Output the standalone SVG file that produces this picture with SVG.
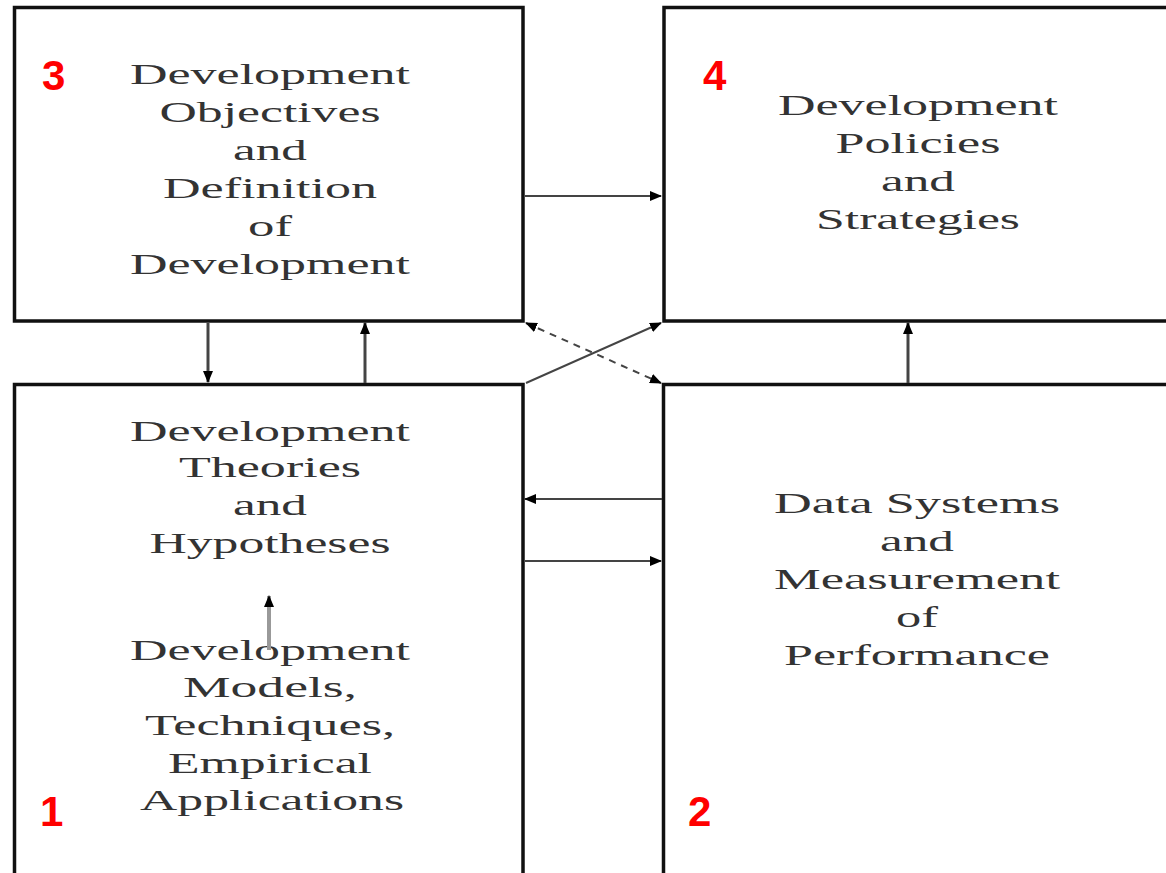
<svg xmlns="http://www.w3.org/2000/svg" width="1166" height="873" viewBox="0 0 1166 873">
<style>
.box{fill:#fff;stroke:#111;stroke-width:3.5}
.t{font-family:"Liberation Serif","Times New Roman",serif;font-size:30px;fill:#333;text-anchor:middle}
.n{font-family:"Liberation Sans",Arial,sans-serif;font-size:42px;font-weight:bold;fill:#ff0000}
.c{fill:none;stroke:#444;stroke-width:2}
.v{stroke-width:3}
.d{stroke-dasharray:7,6}
</style>
<defs>
<marker id="ah" markerUnits="userSpaceOnUse" markerWidth="12" markerHeight="10" refX="11" refY="5" orient="auto-start-reverse">
<path d="M0,0 L12,5 L0,10 Z" fill="#000"/>
</marker>
</defs>
<rect width="1166" height="873" fill="#fff"/>
<g id="node3">
<rect class="box" x="14.5" y="7.5" width="508.5" height="313.5"/>
<text class="n" x="42" y="90">3</text>
<text class="t" x="270" y="84" textLength="280" lengthAdjust="spacingAndGlyphs">Development</text>
<text class="t" x="270" y="122" textLength="221" lengthAdjust="spacingAndGlyphs">Objectives</text>
<text class="t" x="270" y="160" textLength="74" lengthAdjust="spacingAndGlyphs">and</text>
<text class="t" x="270" y="198" textLength="214" lengthAdjust="spacingAndGlyphs">Definition</text>
<text class="t" x="270" y="236" textLength="44" lengthAdjust="spacingAndGlyphs">of</text>
<text class="t" x="270" y="274" textLength="280" lengthAdjust="spacingAndGlyphs">Development</text>
</g>
<g id="node4">
<rect class="box" x="664" y="7.5" width="520" height="313.5"/>
<text class="n" x="703" y="90">4</text>
<text class="t" x="918" y="115" textLength="280" lengthAdjust="spacingAndGlyphs">Development</text>
<text class="t" x="918" y="153" textLength="165" lengthAdjust="spacingAndGlyphs">Policies</text>
<text class="t" x="918" y="191" textLength="74" lengthAdjust="spacingAndGlyphs">and</text>
<text class="t" x="918" y="229" textLength="204" lengthAdjust="spacingAndGlyphs">Strategies</text>
</g>
<g id="node1">
<rect class="box" x="14.5" y="384.5" width="508.5" height="500"/>
<text class="n" x="40" y="826">1</text>
<text class="t" x="270" y="441" textLength="280" lengthAdjust="spacingAndGlyphs">Development</text>
<text class="t" x="270" y="477" textLength="182" lengthAdjust="spacingAndGlyphs">Theories</text>
<text class="t" x="270" y="515" textLength="74" lengthAdjust="spacingAndGlyphs">and</text>
<text class="t" x="270" y="553" textLength="241" lengthAdjust="spacingAndGlyphs">Hypotheses</text>
<text class="t" x="270" y="660" textLength="280" lengthAdjust="spacingAndGlyphs">Development</text>
<text class="t" x="270" y="697" textLength="174" lengthAdjust="spacingAndGlyphs">Models,</text>
<text class="t" x="270" y="735" textLength="250" lengthAdjust="spacingAndGlyphs">Techniques,</text>
<text class="t" x="270" y="773" textLength="204" lengthAdjust="spacingAndGlyphs">Empirical</text>
<text class="t" x="272" y="810" textLength="264" lengthAdjust="spacingAndGlyphs">Applications</text>
</g>
<g id="node2">
<rect class="box" x="663.5" y="384.5" width="520" height="500"/>
<text class="n" x="688" y="826">2</text>
<text class="t" x="917" y="513" textLength="286" lengthAdjust="spacingAndGlyphs">Data Systems</text>
<text class="t" x="917" y="551" textLength="74" lengthAdjust="spacingAndGlyphs">and</text>
<text class="t" x="917" y="589" textLength="286" lengthAdjust="spacingAndGlyphs">Measurement</text>
<text class="t" x="917" y="627" textLength="42" lengthAdjust="spacingAndGlyphs">of</text>
<text class="t" x="917" y="665" textLength="266" lengthAdjust="spacingAndGlyphs">Performance</text>
</g>
<g id="connectors">
<line class="c" x1="525" y1="196" x2="661" y2="196" marker-end="url(#ah)"/>
<line class="c v" x1="208" y1="323" x2="208" y2="382" marker-end="url(#ah)"/>
<line class="c v" x1="365" y1="383" x2="365" y2="323" marker-end="url(#ah)"/>
<line class="c v" x1="908" y1="383" x2="908" y2="323" marker-end="url(#ah)"/>
<line class="c" x1="662" y1="499" x2="525" y2="499" marker-end="url(#ah)"/>
<line class="c" x1="525" y1="561" x2="661" y2="561" marker-end="url(#ah)"/>
<line class="c" x1="526" y1="383" x2="661" y2="323" marker-end="url(#ah)"/>
<line class="c d" x1="526" y1="323" x2="661" y2="383" marker-start="url(#ah)" marker-end="url(#ah)"/>
<line class="c" style="stroke:#999;stroke-width:4" x1="269" y1="650" x2="269" y2="596" marker-end="url(#ah)"/>
</g>
</svg>
